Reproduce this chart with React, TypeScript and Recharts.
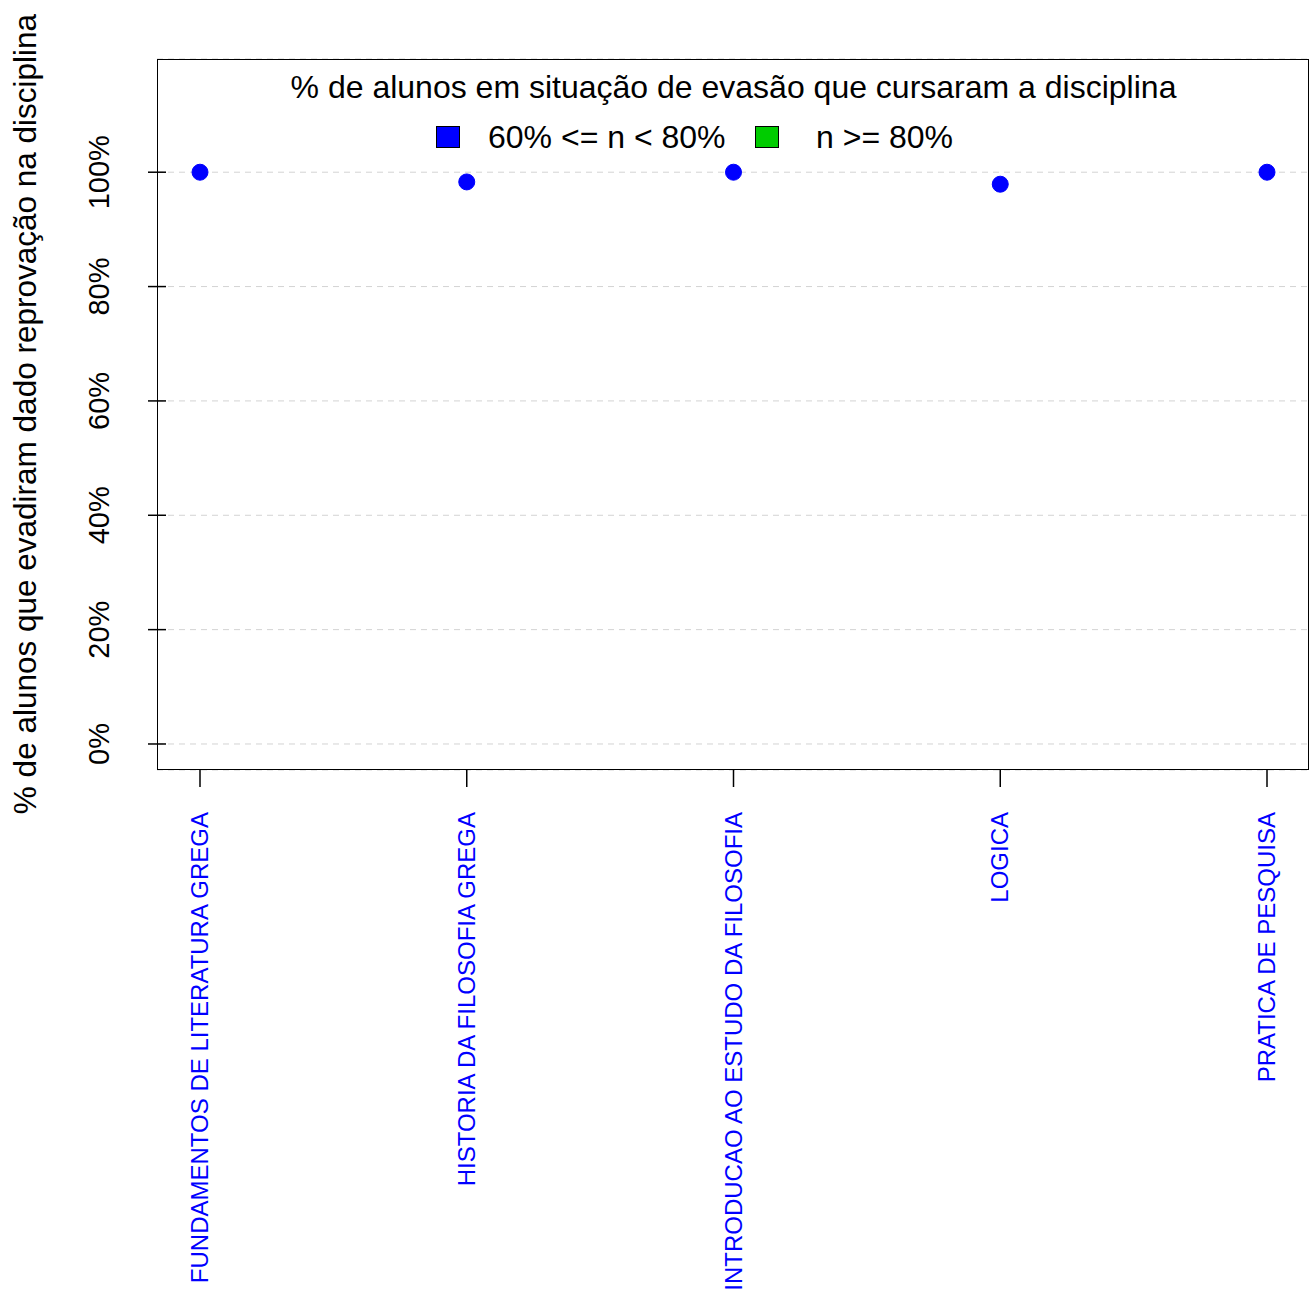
import { LineChart, Line, XAxis, YAxis, CartesianGrid } from 'recharts';

const disciplinas = [
  'FUNDAMENTOS DE LITERATURA GREGA',
  'HISTORIA DA FILOSOFIA GREGA',
  'INTRODUCAO AO ESTUDO DA FILOSOFIA',
  'LOGICA',
  'PRATICA DE PESQUISA',
];
const reprovacao = [100, 98.3, 100, 97.9, 100];
const yTicks = [0, 20, 40, 60, 80, 100];

const data = disciplinas.map((nome, i) => ({ nome, valor: reprovacao[i] }));

const font = 'Liberation Sans, Arial, sans-serif';

const YTick = (props: any) => {
  const { x, y, payload } = props;
  return (
    <g>
      <line x1={x - 1} x2={x + 17} y1={y} y2={y} stroke="#000" strokeWidth={1.5} />
      <text x={x - 50} y={y} transform={`rotate(-90 ${x - 50} ${y})`} textAnchor="middle" dy={10} fontSize={29} fontFamily={font} fill="#000">
        {payload.value}%
      </text>
    </g>
  );
};

const XTick = (props: any) => {
  const { x, y, payload } = props;
  return (
    <g>
      <line x1={x} x2={x} y1={y - 8} y2={y + 9} stroke="#000" strokeWidth={1.5} />
      <text x={x} y={y + 34} transform={`rotate(-90 ${x} ${y + 34})`} textAnchor="end" dy={8} fontSize={24} fontFamily={font} fill="#0000FF">
        {payload.value}
      </text>
    </g>
  );
};

export default function App() {
  return (
    <div style={{ position: 'absolute', left: 0, top: 0, width: 1312, height: 1293, overflow: 'hidden', fontFamily: font, background: '#fff' }}>
      <LineChart width={1312} height={1293} data={data} margin={{ top: 59, right: 2, bottom: 0, left: 140 }}>
        <CartesianGrid horizontal vertical={false} stroke="#d3d3d3" strokeDasharray="6 5" />
        <XAxis dataKey="nome" interval={0} tick={<XTick />} tickLine={false} axisLine={false} height={523} padding={{ left: 43, right: 43 }} />
        <YAxis domain={[-4.55, 119.8]} ticks={yTicks} tick={<YTick />} tickLine={false} axisLine={false} width={17} />
        <Line dataKey="valor" stroke="none" dot={{ r: 8, fill: '#0000FF', stroke: '#0000FF' }} isAnimationActive={false} />
      </LineChart>
      <div style={{ position: 'absolute', left: 157, top: 59, width: 1150, height: 709, border: '1.5px solid #000' }} />
      <div style={{ position: 'absolute', left: 157, top: 69, width: 1153, textAlign: 'center', fontSize: 32 }}>
        % de alunos em situação de evasão que cursaram a disciplina
      </div>
      <div style={{ position: 'absolute', left: 436, top: 126, width: 22, height: 20, background: '#0000FF', border: '1.5px solid #000' }} />
      <div style={{ position: 'absolute', left: 488, top: 119, fontSize: 32 }}>60% &lt;= n &lt; 80%</div>
      <div style={{ position: 'absolute', left: 755, top: 126, width: 22, height: 20, background: '#00CC00', border: '1.5px solid #000' }} />
      <div style={{ position: 'absolute', left: 816, top: 119, fontSize: 32 }}>n &gt;= 80%</div>
      <div style={{ position: 'absolute', left: 25, top: 414, transform: 'translate(-50%, -50%) rotate(-90deg)', whiteSpace: 'nowrap', fontSize: 31.5 }}>
        % de alunos que evadiram dado reprovação na disciplina
      </div>
    </div>
  );
}
